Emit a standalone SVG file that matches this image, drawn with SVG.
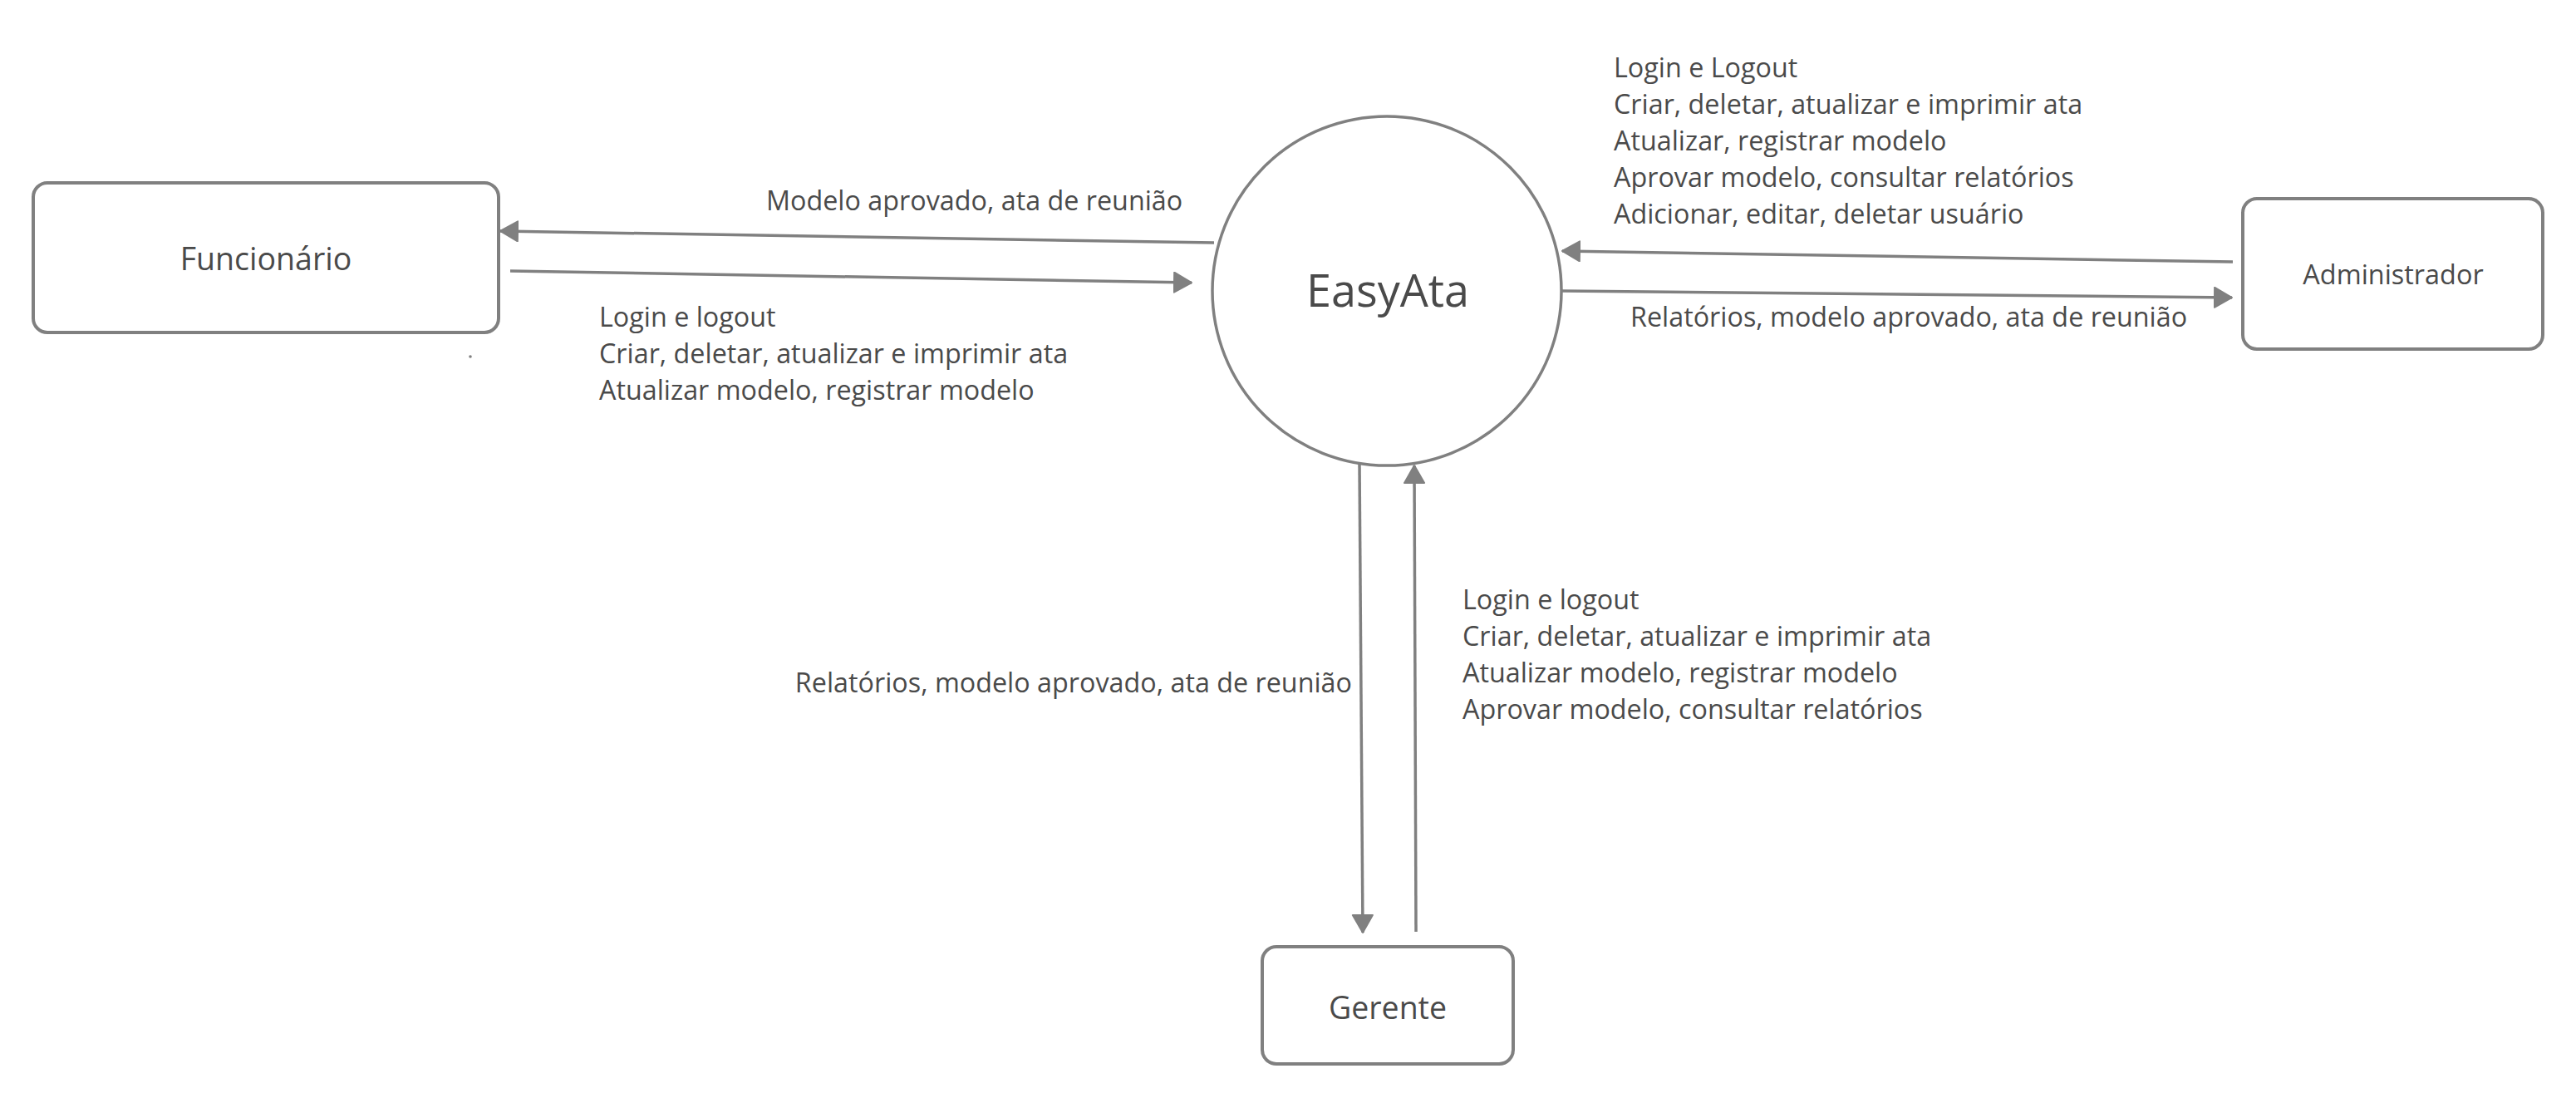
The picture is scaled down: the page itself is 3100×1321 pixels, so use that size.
<svg xmlns="http://www.w3.org/2000/svg" width="3100" height="1321" viewBox="0 0 3100 1321">
<style>
.box{fill:#fff;stroke:#808080;stroke-width:4}
.circ{fill:#fff;stroke:#808080;stroke-width:3.5}
.ln{fill:none;stroke:#808080;stroke-width:3.5}
text{font-family:"Open Sans","Noto Sans","Liberation Sans",sans-serif;fill:#4a4a4a}
.lbl{font-size:32.3px}
</style>
<defs>
<marker id="ah" markerUnits="userSpaceOnUse" markerWidth="26" markerHeight="28" refX="22" refY="13" orient="auto">
<path d="M1,1 L22,13 L1,25 Z" fill="#808080" stroke="#808080" stroke-width="2" stroke-linejoin="round"/>
</marker>
</defs>
<rect width="3100" height="1321" fill="#fff"/>
<g id="connectors">
<line class="ln" x1="1461" y1="292" x2="602" y2="278" marker-end="url(#ah)"/>
<line class="ln" x1="614" y1="326" x2="1434" y2="340" marker-end="url(#ah)"/>
<line class="ln" x1="2687" y1="315" x2="1880" y2="302" marker-end="url(#ah)"/>
<line class="ln" x1="1880" y1="350" x2="2686" y2="358" marker-end="url(#ah)"/>
<line class="ln" x1="1636" y1="558" x2="1640" y2="1122" marker-end="url(#ah)"/>
<line class="ln" x1="1704" y1="1121" x2="1702" y2="560" marker-end="url(#ah)"/>
</g>
<g id="labels">
<text class="lbl" x="922" y="253">Modelo aprovado, ata de reunião</text>
<text class="lbl" x="721" y="393">Login e logout</text>
<text class="lbl" x="721" y="437">Criar, deletar, atualizar e imprimir ata</text>
<text class="lbl" x="721" y="481">Atualizar modelo, registrar modelo</text>
<text class="lbl" x="1942" y="93">Login e Logout</text>
<text class="lbl" x="1942" y="137">Criar, deletar, atualizar e imprimir ata</text>
<text class="lbl" x="1942" y="181">Atualizar, registrar modelo</text>
<text class="lbl" x="1942" y="225">Aprovar modelo, consultar relatórios</text>
<text class="lbl" x="1942" y="269">Adicionar, editar, deletar usuário</text>
<text class="lbl" x="1962" y="393">Relatórios, modelo aprovado, ata de reunião</text>
<text class="lbl" x="1627" y="833" text-anchor="end">Relatórios, modelo aprovado, ata de reunião</text>
<text class="lbl" x="1760" y="733">Login e logout</text>
<text class="lbl" x="1760" y="777">Criar, deletar, atualizar e imprimir ata</text>
<text class="lbl" x="1760" y="821">Atualizar modelo, registrar modelo</text>
<text class="lbl" x="1760" y="865">Aprovar modelo, consultar relatórios</text>
</g>
<g id="funcionario">
<rect class="box" x="40" y="220" width="560" height="180" rx="17"/>
<text x="320" y="325" font-size="37.5" text-anchor="middle">Funcionário</text>
</g>
<circle cx="566" cy="429" r="1.8" fill="#808080"/>
<g id="easyata">
<circle class="circ" cx="1669" cy="350" r="210"/>
<text x="1670" y="369" font-size="54" text-anchor="middle">EasyAta</text>
</g>
<g id="administrador">
<rect class="box" x="2699" y="239" width="361" height="181" rx="17"/>
<text x="2880" y="342" font-size="32.4" text-anchor="middle">Administrador</text>
</g>
<g id="gerente">
<rect class="box" x="1519" y="1139" width="302" height="141" rx="17"/>
<text x="1670" y="1226" font-size="37.5" text-anchor="middle">Gerente</text>
</g>
</svg>
